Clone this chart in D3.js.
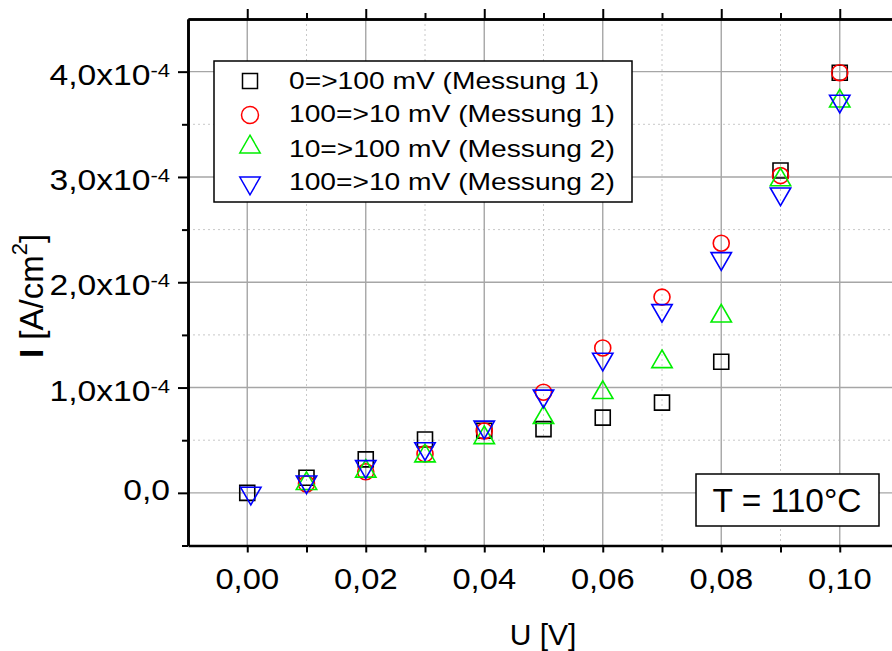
<!DOCTYPE html>
<html><head><meta charset="utf-8">
<script src="https://cdn.jsdelivr.net/npm/d3@7"></script>
<style>
body{margin:0;background:#fff;overflow:hidden}
svg{display:block}
text{font-family:"Liberation Sans",Arial,Helvetica,sans-serif;fill:#000}
</style>
</head><body>
<svg id="chart" width="892" height="651"></svg>
<script>
// ---- data (U in V, I in A/cm^2) ----
const uValues = [0, 0.01, 0.02, 0.03, 0.04, 0.05, 0.06, 0.07, 0.08, 0.09, 0.10];
const uBlue   = [0.0006, 0.01, 0.02, 0.03, 0.04, 0.05, 0.06, 0.07, 0.08, 0.09, 0.10];
const seriesNames = ["0=>100 mV (Messung 1)", "100=>10 mV (Messung 1)", "10=>100 mV (Messung 2)", "100=>10 mV (Messung 2)"];
const m1Up   = [0, 0.143e-4, 0.318e-4, 0.506e-4, 0.59e-4, 0.605e-4, 0.714e-4, 0.857e-4, 1.245e-4, 3.061e-4, 3.99e-4];
const m1Down = [null, 0.084e-4, 0.200e-4, 0.370e-4, 0.587e-4, 0.956e-4, 1.376e-4, 1.859e-4, 2.371e-4, 3.013e-4, 3.99e-4];
const m2Up   = [null, 0.088e-4, 0.205e-4, 0.350e-4, 0.523e-4, 0.714e-4, 0.952e-4, 1.245e-4, 1.678e-4, 2.972e-4, 3.72e-4];
const m2Down = [-0.003e-4, 0.104e-4, 0.250e-4, 0.420e-4, 0.625e-4, 0.920e-4, 1.270e-4, 1.732e-4, 2.225e-4, 2.839e-4, 3.72e-4];
const xTickValues = [0, 0.02, 0.04, 0.06, 0.08, 0.10];
const xTickLabels = ["0,00", "0,02", "0,04", "0,06", "0,08", "0,10"];
const yTickValues = [0, 1e-4, 2e-4, 3e-4, 4e-4];
const yTickMantissa = ["0,0", "1,0x10", "2,0x10", "3,0x10", "4,0x10"];
const yTickExponent = ["", "-4", "-4", "-4", "-4"];
const annotation = "T = 110°C";

// ---- scales ----
const svg = d3.select("#chart");
const x = d3.scaleLinear().domain([-0.01, 0.11]).range([188, 899]);
const y = d3.scaleLinear().domain([-0.5e-4, 4.5e-4]).range([545.5, 19]);
const [xl, xr] = x.range();
const [yb, yt] = y.range();

const xAll = x.ticks(12);
const xMajor = xAll.filter(v => Math.round(v * 100) % 2 === 0 && v >= 0 && v <= 0.1001);
const xMinor = xAll.filter(v => Math.round(v * 100) % 2 !== 0 && v > -0.0099);
const yAll = d3.range(-0.5e-4, 4.51e-4, 0.5e-4);
const yMajor = yAll.filter(v => Math.abs(Math.round(v * 2e4)) % 2 === 0);
const yMinor = yAll.filter(v => Math.abs(Math.round(v * 2e4)) % 2 === 1 && v > -0.4e-4 && v < 4.4e-4);

// ---- grid ----
const grid = svg.append("g");
grid.selectAll(".vmin").data(xMinor).join("line")
  .attr("x1", d => x(d)).attr("x2", d => x(d)).attr("y1", yt).attr("y2", yb)
  .attr("stroke", "#c8c8c8").attr("stroke-width", 1).attr("stroke-dasharray", "2,3");
grid.selectAll(".hmin").data(yMinor).join("line")
  .attr("y1", d => y(d)).attr("y2", d => y(d)).attr("x1", xl).attr("x2", xr)
  .attr("stroke", "#c8c8c8").attr("stroke-width", 1).attr("stroke-dasharray", "2,3");
grid.selectAll(".vmaj").data(xMajor).join("line")
  .attr("x1", d => x(d)).attr("x2", d => x(d)).attr("y1", yt).attr("y2", yb)
  .attr("stroke", "#a6a6a6").attr("stroke-width", 1.4);
grid.selectAll(".hmaj").data(yMajor.filter(v => v > -0.4e-4)).join("line")
  .attr("y1", d => y(d)).attr("y2", d => y(d)).attr("x1", xl).attr("x2", xr)
  .attr("stroke", "#a6a6a6").attr("stroke-width", 1.4);

// ---- axes ----
function styleAxis(g) {
  g.select(".domain").attr("stroke", "#000").attr("stroke-width", 2.6);
  g.selectAll(".tick line").attr("stroke", "#000").attr("stroke-width", 2);
  g.selectAll(".tick text").remove();
}
svg.append("g").attr("transform", `translate(0,${yt})`)
  .call(d3.axisTop(x).tickValues(xMajor).tickSize(10).tickSizeOuter(0).tickFormat("")).call(styleAxis);
svg.append("g").attr("transform", `translate(0,${yt})`)
  .call(d3.axisTop(x).tickValues(xMinor).tickSize(6).tickSizeOuter(0).tickFormat("")).call(styleAxis);
svg.append("g").attr("transform", `translate(0,${yb})`)
  .call(d3.axisBottom(x).tickValues(xAll.filter(v => v > -0.0099)).tickSize(7).tickSizeOuter(0).tickFormat("")).call(styleAxis);
svg.append("g").attr("transform", `translate(${xl},0)`)
  .call(d3.axisLeft(y).tickValues(yMajor.filter(v => v > -0.4e-4)).tickSize(10).tickSizeOuter(0).tickFormat("")).call(styleAxis);
svg.append("g").attr("transform", `translate(${xl},0)`)
  .call(d3.axisLeft(y).tickValues(yMinor.concat([-0.5e-4])).tickSize(6).tickSizeOuter(0).tickFormat("")).call(styleAxis);

// ---- tick labels ----
const xLab = svg.append("g");
xTickValues.forEach((v, i) => {
  xLab.append("text")
    .attr("transform", `translate(${x(v)},589) scale(1.09,1)`)
    .attr("text-anchor", "middle").attr("font-size", 30)
    .text(xTickLabels[i]);
});
const yLab = svg.append("g");
yTickValues.forEach((v, i) => {
  const hasExp = yTickExponent[i] !== "";
  const t = yLab.append("text")
    .attr("transform", `translate(170,${y(v) + (hasExp ? 13 : 7)}) scale(1.16,1)`)
    .attr("text-anchor", "end").attr("font-size", 29);
  t.append("tspan").text(yTickMantissa[i]);
  if (hasExp) t.append("tspan").attr("font-size", 19).attr("dy", -8).text(yTickExponent[i]);
});

// ---- axis titles ----
svg.append("text").attr("x", 543).attr("y", 645).attr("text-anchor", "middle")
  .attr("font-size", 30).text("U [V]");
const yt1 = svg.append("text").attr("transform", "translate(43,358) rotate(-90)").attr("font-size", 33);
yt1.append("tspan").attr("font-weight", "bold").text("I");
yt1.append("tspan").text(" [A/cm");
yt1.append("tspan").attr("font-size", 22).attr("dy", -16).text("2");
yt1.append("tspan").attr("dy", 16).text("]");

// ---- markers ----
const sq = d3.symbol().type(d3.symbolSquare).size(225)();
const ci = d3.symbol().type(d3.symbolCircle).size(201)();
const tri = d3.symbol().type(d3.symbolTriangle).size(180)();
const series = [
  {xs: uValues, ys: m1Up,   path: sq,  rot: 0,   color: "#000000"},
  {xs: uValues, ys: m1Down, path: ci,  rot: 0,   color: "#ff0000"},
  {xs: uValues, ys: m2Up,   path: tri, rot: 0,   color: "#00ee00"},
  {xs: uBlue,   ys: m2Down, path: tri, rot: 180, color: "#0000ff"}
];
const marks = svg.append("g");
series.forEach(s => {
  const pts = s.ys.map((v, i) => [s.xs[i], v]).filter(p => p[1] !== null);
  marks.append("g").selectAll("path").data(pts).join("path")
    .attr("d", s.path)
    .attr("transform", p => `translate(${x(p[0])},${y(p[1])}) rotate(${s.rot})`)
    .attr("fill", "none").attr("stroke", s.color).attr("stroke-width", 1.6);
});

// ---- legend ----
const leg = svg.append("g");
leg.append("rect").attr("x", 214).attr("y", 61).attr("width", 418).attr("height", 141)
  .attr("fill", "#fff").attr("stroke", "#000").attr("stroke-width", 1.5);
const legRowsY = [81, 115, 147, 183];
const legBase = [88.5, 122, 156.5, 190];
series.forEach((s, i) => {
  leg.append("path").attr("d", i === 1 ? d3.symbol().type(d3.symbolCircle).size(227)() : s.path)
    .attr("transform", `translate(250,${legRowsY[i]}) rotate(${s.rot})`)
    .attr("fill", "none").attr("stroke", s.color).attr("stroke-width", 1.5);
  leg.append("text").attr("transform", `translate(289,${legBase[i]}) scale(1.2,1)`)
    .attr("font-size", 23.5).text(seriesNames[i]);
});

// ---- annotation ----
svg.append("rect").attr("x", 696).attr("y", 474).attr("width", 183).attr("height", 52)
  .attr("fill", "#fff").attr("stroke", "#000").attr("stroke-width", 1.5);
svg.append("text").attr("x", 787).attr("y", 511.5).attr("text-anchor", "middle")
  .attr("font-size", 33.5).text(annotation);
</script>
</body></html>
